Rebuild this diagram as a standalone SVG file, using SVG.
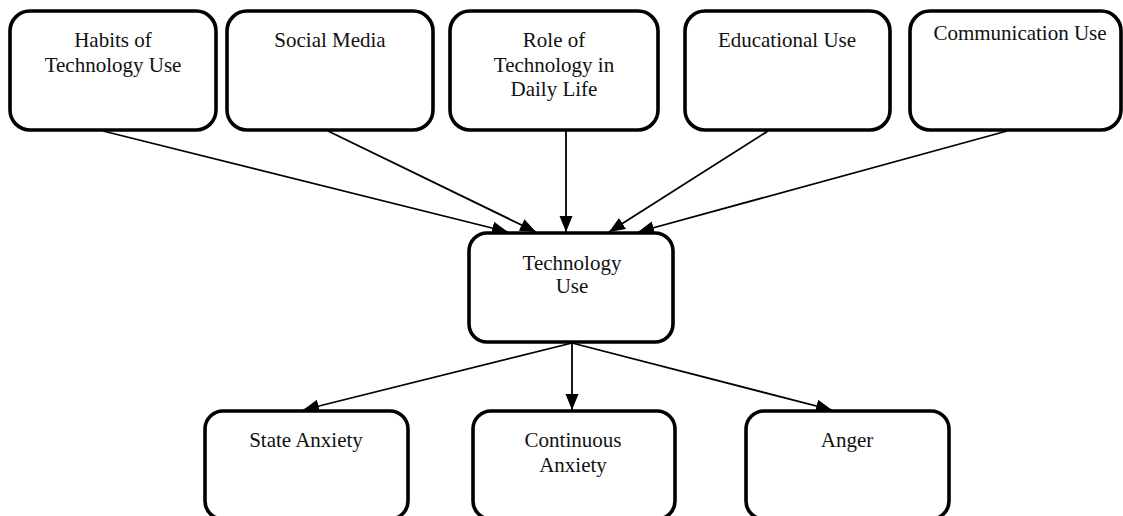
<svg xmlns="http://www.w3.org/2000/svg" width="1123" height="516" viewBox="0 0 1123 516">
<style>
.box{fill:#fff;stroke:#000;stroke-width:3.6}
.lbl{font-family:"Liberation Serif","Times New Roman",serif;font-size:21px;fill:#111;text-anchor:middle}
.edge{stroke:#000;stroke-width:1.8;fill:none;marker-end:url(#arr)}
</style>
<defs>
<marker id="arr" markerUnits="userSpaceOnUse" markerWidth="17" markerHeight="14" refX="16" refY="7" orient="auto">
<path d="M0,0.5 L16,7 L0,13.5 Z" fill="#000"/>
</marker>
</defs>
<rect width="1123" height="516" fill="#fff"/>
<g id="connectors">
<line class="edge" x1="103" y1="131" x2="508" y2="232"/>
<line class="edge" x1="328" y1="131" x2="536" y2="232"/>
<line class="edge" x1="566" y1="131" x2="566" y2="232"/>
<line class="edge" x1="768" y1="131" x2="609" y2="232"/>
<line class="edge" x1="1007" y1="131" x2="638" y2="232"/>
<line class="edge" x1="572" y1="343" x2="303" y2="410"/>
<line class="edge" x1="572" y1="343" x2="572" y2="410"/>
<line class="edge" x1="572" y1="343" x2="832" y2="410"/>
</g>
<g id="habits">
<rect class="box" x="10" y="11" width="206" height="119" rx="20"/>
<text class="lbl" x="113" y="47">Habits of</text>
<text class="lbl" x="113" y="72">Technology Use</text>
</g>
<g id="social">
<rect class="box" x="227" y="11" width="206" height="119" rx="20"/>
<text class="lbl" x="330" y="47">Social Media</text>
</g>
<g id="role">
<rect class="box" x="450" y="11" width="208" height="119" rx="20"/>
<text class="lbl" x="554" y="47">Role of</text>
<text class="lbl" x="554" y="72">Technology in</text>
<text class="lbl" x="554" y="96">Daily Life</text>
</g>
<g id="educational">
<rect class="box" x="685" y="11" width="205" height="119" rx="20"/>
<text class="lbl" x="787" y="47">Educational Use</text>
</g>
<g id="communication">
<rect class="box" x="910" y="11" width="211" height="119" rx="20"/>
<text class="lbl" x="1020" y="40">Communication Use</text>
</g>
<g id="techuse">
<rect class="box" x="469" y="233" width="204" height="109" rx="18"/>
<text class="lbl" x="572" y="270">Technology</text>
<text class="lbl" x="572" y="293">Use</text>
</g>
<g id="state">
<rect class="box" x="205" y="411" width="203" height="108" rx="18"/>
<text class="lbl" x="306" y="447">State Anxiety</text>
</g>
<g id="continuous">
<rect class="box" x="473" y="411" width="202" height="108" rx="18"/>
<text class="lbl" x="573" y="447">Continuous</text>
<text class="lbl" x="573" y="472">Anxiety</text>
</g>
<g id="anger">
<rect class="box" x="746" y="411" width="203" height="108" rx="18"/>
<text class="lbl" x="847" y="447">Anger</text>
</g>
</svg>
